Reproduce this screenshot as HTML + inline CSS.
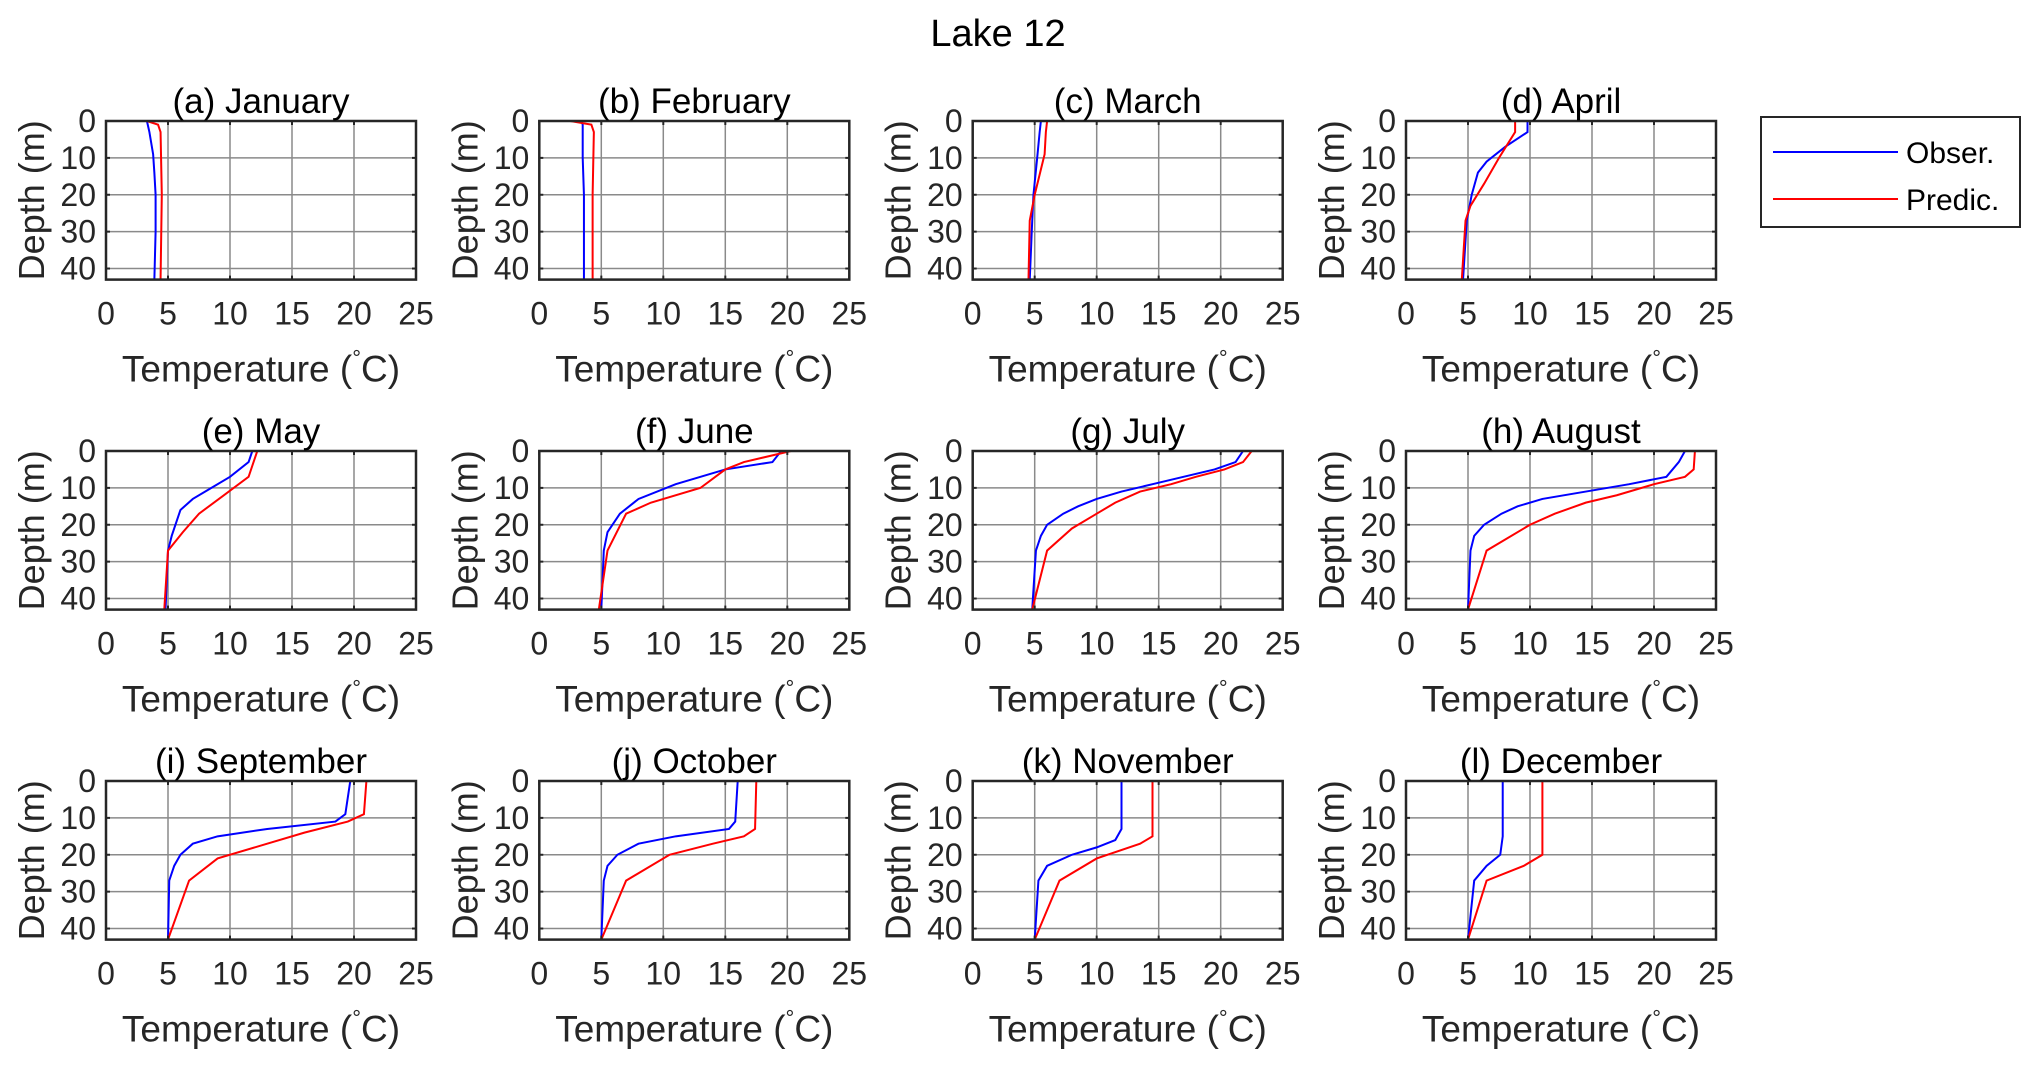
<!DOCTYPE html>
<html><head><meta charset="utf-8"><style>
html,body{margin:0;padding:0;background:#fff;}
svg{display:block;font-family:"Liberation Sans",sans-serif;}
</style></head><body>
<svg id="fig" width="2024" height="1065" viewBox="0 0 2024 1065">
<text x="998" y="46" font-size="38" text-anchor="middle" fill="#000">Lake 12</text>
<g>
<rect x="1761" y="117" width="259" height="110" fill="#fff" stroke="#262626" stroke-width="2"/>
<line x1="1773" y1="152" x2="1898" y2="152" stroke="#0000ff" stroke-width="2"/>
<text x="1906" y="163" font-size="30" fill="#000">Obser.</text>
<line x1="1773" y1="199" x2="1898" y2="199" stroke="#ff0000" stroke-width="2"/>
<text x="1906" y="210" font-size="30" fill="#000">Predic.</text>
</g>
</svg>
<script>
const months=["(a) January","(b) February","(c) March","(d) April","(e) May","(f) June","(g) July","(h) August","(i) September","(j) October","(k) November","(l) December"];
const xTicks=[0,5,10,15,20,25];
const yTicks=[0,10,20,30,40];
const obsDepth=[
[0,3,9,14,20,30,43],[0,1,10,20,30,43],[0,3,10,20,27,43],[0,3,7,11,14,20,27,43],
[0,3,7,10,13,16,23,27,43],[0,3,5,9,13,17,22,27,43],
[0,3,5,7,9,11,13,15,17,20,23,27,43],[0,3,7,9,11,13,15,17,20,23,27,43],
[0,9,11,13,15,17,20,23,27,43],[0,11,13,15,17,20,23,27,43],[0,13,16,18,20,23,27,43],[0,15,20,23,27,43]];
const obsTemp=[
[3.3,3.5,3.8,3.9,4.0,4.0,3.9],[3.4,3.5,3.5,3.6,3.6,3.6],[5.5,5.4,5.2,4.9,4.8,4.6],[9.8,9.8,8.0,6.5,5.8,5.3,4.9,4.6],
[11.8,11.5,10.0,8.5,7.0,6.0,5.3,5.0,4.8],[19.5,18.8,15.0,11.0,8.0,6.5,5.5,5.2,5.0],
[21.8,21.2,19.5,17.0,14.5,12.0,10.0,8.5,7.3,6.0,5.5,5.1,4.8],[22.5,22.0,21.0,18.0,14.5,11.0,9.0,7.7,6.3,5.5,5.2,5.0],
[19.7,19.3,18.5,13.0,9.0,7.0,6.0,5.5,5.1,5.0],[16.0,15.8,15.3,11.0,8.0,6.3,5.5,5.2,5.0],[12.0,12.0,11.5,10.0,8.0,6.0,5.3,5.0],[7.8,7.8,7.6,6.5,5.5,5.0]];
const predDepth=[
[0,1,3,20,43],[0,1,3,20,43],[0,3,9,20,27,43],[0,3,10,17,23,27,43],
[0,7,12,17,22,27,43],[0,3,5,10,14,17,27,43],
[0,3,5,7,9,11,14,17,21,27,43],[0,5,7,9,12,14,17,20,27,43],
[0,9,11,14,17,21,27,43],[0,13,15,17,20,27,43],[0,15,17,21,27,43],[0,20,23,27,43]];
const predTemp=[
[3.3,4.2,4.4,4.5,4.4],[2.5,4.2,4.4,4.3,4.3],[6.0,5.9,5.8,5.0,4.6,4.5],[8.8,8.8,7.5,6.3,5.2,4.8,4.5],
[12.2,11.5,9.5,7.5,6.2,5.0,4.7],[20.3,16.5,15.0,13.0,9.0,7.0,5.5,4.8],
[22.5,21.8,20.3,18.0,16.0,13.5,11.5,10.0,8.0,6.0,4.8],[23.3,23.2,22.5,20.0,17.0,14.5,12.0,10.0,6.5,5.0],
[21.0,20.8,19.5,16.0,13.0,9.0,6.7,5.0],[17.5,17.4,16.5,14.0,10.5,7.0,5.0],[14.5,14.5,13.5,10.0,7.0,5.0],[11.0,11.0,9.5,6.5,5.0]];

const NS="http://www.w3.org/2000/svg";
const svg=document.getElementById('fig');
const colX=[106,539.3,972.7,1406], rowY=[121,451,781], W=310, H=158.6, XMAX=25, YMAX=43;
function mk(tag,attrs,parent){const e=document.createElementNS(NS,tag);for(const k in attrs)e.setAttribute(k,attrs[k]);(parent||svg).appendChild(e);return e;}
months.forEach((m,i)=>{
  const L=colX[i%4], T=rowY[Math.floor(i/4)];
  const sx=v=>L+v/XMAX*W, sy=d=>T+d/YMAX*H;
  const g=mk('g',{});
  
  
  xTicks.slice(1,-1).forEach(t=>{const l=mk('line',{x1:sx(t),x2:sx(t),y1:T,y2:T+H,stroke:'#8a8a8a','stroke-width':1.5},g);
    });
  yTicks.slice(1).forEach(t=>{const l=mk('line',{x1:L,x2:L+W,y1:sy(t),y2:sy(t),stroke:'#8a8a8a','stroke-width':1.5},g);
    });
  const lines=[[obsDepth[i],obsTemp[i],'#0000ff','obs-line'],[predDepth[i],predTemp[i],'#ff0000','pred-line']];
  lines.forEach(([d,t,c,n])=>{
    const p=mk('polyline',{points:d.map((dd,k)=>sx(t[k])+','+sy(dd)).join(' '),fill:'none',stroke:c,'stroke-width':2},g);
    
  });
  const box=mk('rect',{x:L,y:T,width:W,height:H,fill:'none',stroke:'#262626','stroke-width':2.5},g);
  
  xTicks.forEach(t=>{
    mk('line',{x1:sx(t),x2:sx(t),y1:T+H,y2:T+H-4,stroke:'#262626','stroke-width':2},g);
    mk('line',{x1:sx(t),x2:sx(t),y1:T,y2:T+4,stroke:'#262626','stroke-width':2},g);
    const tx=mk('text',{x:sx(t),y:T+H+45,'font-size':32,'text-anchor':'middle',fill:'#262626'},g);tx.textContent=t;
    
  });
  yTicks.forEach(t=>{
    mk('line',{x1:L,x2:L+4,y1:sy(t),y2:sy(t),stroke:'#262626','stroke-width':2},g);
    mk('line',{x1:L+W,x2:L+W-4,y1:sy(t),y2:sy(t),stroke:'#262626','stroke-width':2},g);
    const tx=mk('text',{x:L-10,y:sy(t)+11,'font-size':32,'text-anchor':'end',fill:'#262626'},g);tx.textContent=t;
    
  });
  const ti=mk('text',{x:L+W/2,y:T-8,'font-size':35,'text-anchor':'middle',fill:'#000'},g);ti.textContent=m;
  
  const xl=mk('text',{x:L+W/2,y:T+H+102,'font-size':37,'text-anchor':'middle',fill:'#262626'},g);
  xl.innerHTML='Temperature (<tspan dy="-16" font-size="22">°</tspan><tspan dy="16">C)</tspan>';
  
  const yl=mk('text',{x:0,y:0,'font-size':36,'text-anchor':'middle',fill:'#262626',transform:`translate(${L-62},${T+H/2}) rotate(-90)`},g);
  yl.textContent='Depth (m)';
  
});
</script>
</body></html>
